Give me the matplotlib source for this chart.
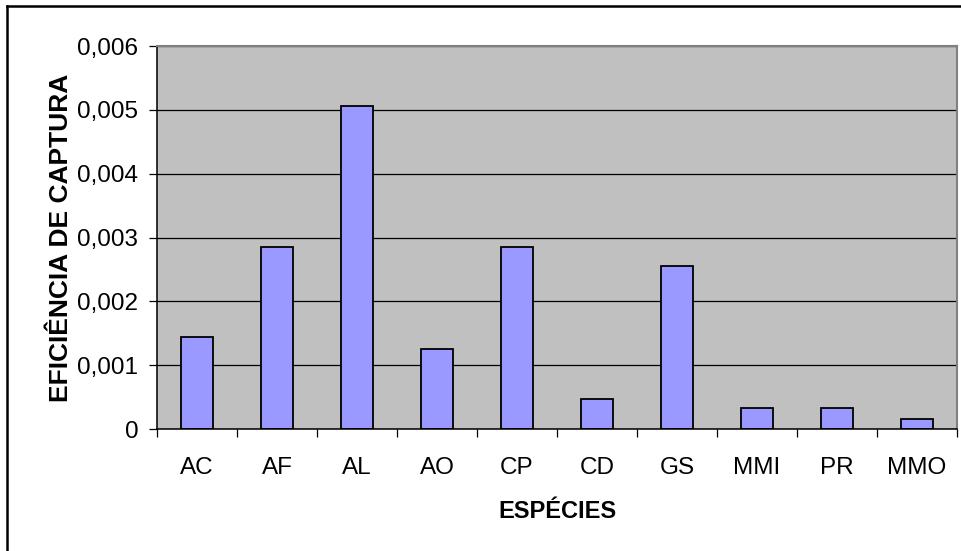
import matplotlib
matplotlib.use("Agg")
import matplotlib.pyplot as plt
from matplotlib.ticker import FixedLocator, FuncFormatter
from matplotlib.lines import Line2D

# Species codes and capture efficiency values
especies = ['AC', 'AF', 'AL', 'AO', 'CP', 'CD', 'GS', 'MMI', 'PR', 'MMO']
eficiencia = [0.00144, 0.00285, 0.00506, 0.00125, 0.00285,
              0.00047, 0.00255, 0.00033, 0.00033, 0.00015]
y_ticks = [0, 0.001, 0.002, 0.003, 0.004, 0.005, 0.006]

plt.rcParams['font.family'] = ['Liberation Sans', 'DejaVu Sans']

W, H = 961, 551
fig = plt.figure(figsize=(W / 100, H / 100), dpi=100)
ax = fig.add_axes([157 / W, (H - 429) / H, 800 / W, 383 / H])

x = list(range(len(especies)))
ax.bar(x, eficiencia, width=0.4, color='#9999FF', edgecolor='black',
       linewidth=1.3, zorder=2)

ax.set_facecolor('#C0C0C0')
ax.set_xlim(-0.5, len(especies) - 0.5)
ax.set_ylim(0, 0.006)

# y axis
ax.yaxis.set_major_locator(FixedLocator(y_ticks))
ax.yaxis.set_major_formatter(FuncFormatter(
    lambda v, p: '0' if v == 0 else f'{v:.3f}'.replace('.', ',')))
ax.yaxis.grid(True, color='black', linewidth=0.9)
ax.set_axisbelow(True)
ax.tick_params(axis='y', direction='out', length=6, width=0.9,
               pad=7.5, labelsize=17.5, colors='black')

# x axis: labels at centers, tick marks at category boundaries
ax.set_xticks(x)
ax.set_xticklabels(especies)
ax.set_xticks([i - 0.5 for i in range(len(especies) + 1)], minor=True)
ax.tick_params(axis='x', which='major', length=0, pad=20, labelsize=17.5)
ax.tick_params(axis='x', which='minor', direction='out', length=6, width=0.9)

for side in ('left', 'bottom'):
    ax.spines[side].set_color('black')
    ax.spines[side].set_linewidth(1.1)
for side in ('top', 'right'):
    ax.spines[side].set_color('#808080')
    ax.spines[side].set_linewidth(1.5)

ax.set_xlabel('ESPÉCIES', fontsize=17, fontweight='bold', labelpad=15)
ax.set_ylabel('EFICIÊNCIA DE CAPTURA', fontsize=19, fontweight='bold',
              labelpad=3)

# outer chart frame (left and top edges visible)
fig.add_artist(Line2D([7 / W, 7 / W], [0, 1 - 6 / H], transform=fig.transFigure,
                      color='black', linewidth=1.8))
fig.add_artist(Line2D([7 / W, 1], [1 - 6 / H, 1 - 6 / H], transform=fig.transFigure,
                      color='black', linewidth=1.8))

fig.savefig('out.png', dpi=100)
